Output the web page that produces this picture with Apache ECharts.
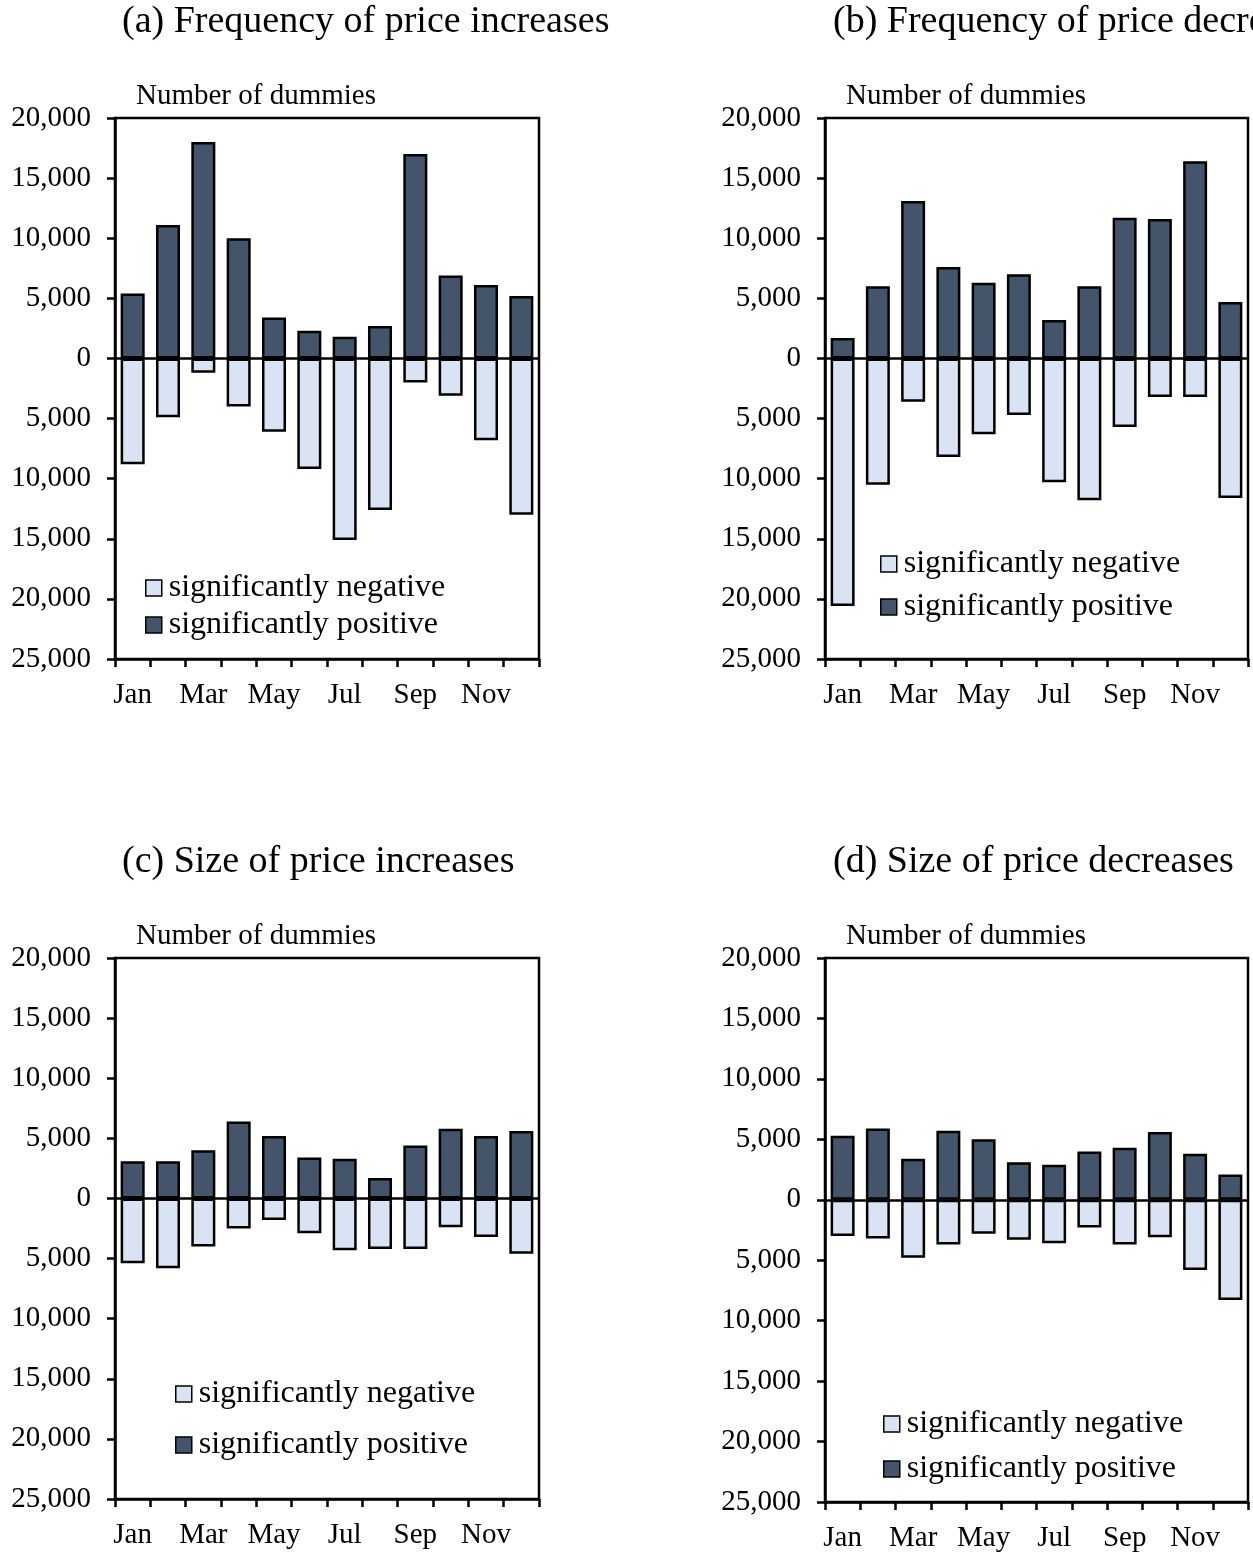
<!DOCTYPE html>
<html>
<head>
<meta charset="utf-8">
<script src="https://cdn.jsdelivr.net/npm/echarts@6/dist/echarts.min.js"></script>
<style>
  html, body { margin: 0; padding: 0; background: #fff; }
  #main { width: 1253px; height: 1553px; }
</style>
</head>
<body>
<div id="main"></div>
<script>
var months = ['Jan', 'Feb', 'Mar', 'Apr', 'May', 'Jun', 'Jul', 'Aug', 'Sep', 'Oct', 'Nov', 'Dec'];

// (a) frequency of price increases
var freqIncPos = [5400, 11100, 18000, 10000, 3400, 2300, 1800, 2700, 17000, 6900, 6100, 5200];
var freqIncNeg = [8800, 4900, 1200, 4000, 6100, 9200, 15100, 12600, 2000, 3100, 6800, 13000];
// (b) frequency of price decreases
var freqDecPos = [1700, 6000, 13100, 7600, 6300, 7000, 3200, 6000, 11700, 11600, 16400, 4700];
var freqDecNeg = [20600, 10500, 3600, 8200, 6300, 4700, 10300, 11800, 5700, 3200, 3200, 11600];
// (c) size of price increases
var sizeIncPos = [3100, 3100, 4000, 6400, 5200, 3400, 3300, 1700, 4400, 5800, 5200, 5600];
var sizeIncNeg = [5400, 5800, 4000, 2500, 1800, 2900, 4300, 4200, 4200, 2400, 3200, 4600];
// (d) size of price decreases
var sizeDecPos = [5300, 5900, 3400, 5700, 5000, 3100, 2900, 4000, 4300, 5600, 3800, 2100];
var sizeDecNeg = [3000, 3200, 4800, 3700, 2800, 3300, 3600, 2300, 3700, 3100, 5800, 8300];

var panelTitles = ['(a) Frequency of price increases', '(b) Frequency of price decreases',
                   '(c) Size of price increases', '(d) Size of price decreases'];
var yName = 'Number of dummies';
var negName = 'significantly negative';
var posName = 'significantly positive';

var serif = 'Liberation Serif, Times New Roman, serif';
var darkColor = '#44546A';
var lightColor = '#DAE3F3';

var panels = [
  { pos: freqIncPos, neg: freqIncNeg, grid: { left: 115, top: 118, width: 424, height: 541 },
    titleX: 122, titleY: 2, legend: { left: 145, top: 572, itemGap: 5 } },
  { pos: freqDecPos, neg: freqDecNeg, grid: { left: 825, top: 118, width: 423, height: 541 },
    titleX: 833, titleY: 2, legend: { left: 880, top: 548, itemGap: 11 } },
  { pos: sizeIncPos, neg: sizeIncNeg, grid: { left: 115, top: 958, width: 424, height: 541 },
    titleX: 122, titleY: 842, legend: { left: 175, top: 1378, itemGap: 19 } },
  { pos: sizeDecPos, neg: sizeDecNeg, grid: { left: 825, top: 958, width: 423, height: 544 },
    titleX: 833, titleY: 842, legend: { left: 883, top: 1408, itemGap: 13 } }
];

var titles = [], grids = [], xAxes = [], yAxes = [], series = [], legends = [];

panels.forEach(function (p, i) {
  titles.push({
    text: panelTitles[i], left: p.titleX, top: p.titleY, padding: 0,
    textStyle: { fontFamily: serif, fontSize: 38, fontWeight: 'normal', color: '#000', lineHeight: 40 }
  });
  titles.push({
    text: yName, left: p.grid.left + 21, top: p.grid.top - 37, padding: 0,
    textStyle: { fontFamily: serif, fontSize: 29, fontWeight: 'normal', color: '#000', lineHeight: 30 }
  });
  grids.push({
    left: p.grid.left, top: p.grid.top, width: p.grid.width, height: p.grid.height,
    show: true, borderColor: '#000', borderWidth: 2.5, backgroundColor: 'transparent'
  });
  xAxes.push({
    type: 'category', gridIndex: i, data: months, position: 'bottom',
    axisLine: { onZero: false, lineStyle: { color: '#000', width: 2.5 } },
    axisTick: { show: true, interval: 0, length: 8, inside: false, lineStyle: { color: '#000', width: 2.5 } },
    axisLabel: { interval: 1, margin: 22, fontFamily: serif, fontSize: 29, color: '#000' },
    splitLine: { show: false }
  });
  yAxes.push({
    type: 'value', gridIndex: i, min: -25000, max: 20000, interval: 5000,
    axisLine: { show: true, lineStyle: { color: '#000', width: 2.5 } },
    axisTick: { show: true, length: 8, lineStyle: { color: '#000', width: 2.5 } },
    axisLabel: {
      margin: 24, fontFamily: serif, fontSize: 29, color: '#000',
      formatter: function (v) { return Math.abs(v).toLocaleString('en-US'); }
    },
    splitLine: { show: false }
  });
  series.push({
    name: negName, type: 'bar', xAxisIndex: i, yAxisIndex: i, stack: 'p' + i,
    barCategoryGap: '32%',
    data: p.neg.map(function (v) { return -v; }),
    itemStyle: { color: lightColor, borderColor: '#000', borderWidth: 2.5 }
  });
  series.push({
    name: posName, type: 'bar', xAxisIndex: i, yAxisIndex: i, stack: 'p' + i,
    barCategoryGap: '32%',
    data: p.pos,
    itemStyle: { color: darkColor, borderColor: '#000', borderWidth: 2.5 },
    markLine: {
      silent: true, symbol: 'none', label: { show: false },
      lineStyle: { color: '#000', width: 2.5, type: 'solid' },
      data: [{ yAxis: 0 }]
    },
    z: 2
  });
  legends.push({
    orient: 'vertical', left: p.legend.left, top: p.legend.top, padding: 0,
    itemGap: p.legend.itemGap, itemWidth: 16, itemHeight: 16,
    icon: 'rect', data: [negName, posName],
    itemStyle: { borderColor: '#000', borderWidth: 1.5 },
    textStyle: { fontFamily: serif, fontSize: 32, color: '#000', lineHeight: 32, padding: [0, 0, 0, 2] },
    selectedMode: false
  });
});

var chart = echarts.init(document.getElementById('main'), null, { renderer: 'canvas' });
chart.setOption({
  animation: false,
  backgroundColor: '#fff',
  title: titles,
  grid: grids,
  xAxis: xAxes,
  yAxis: yAxes,
  legend: legends,
  series: series
});
</script>
</body>
</html>
